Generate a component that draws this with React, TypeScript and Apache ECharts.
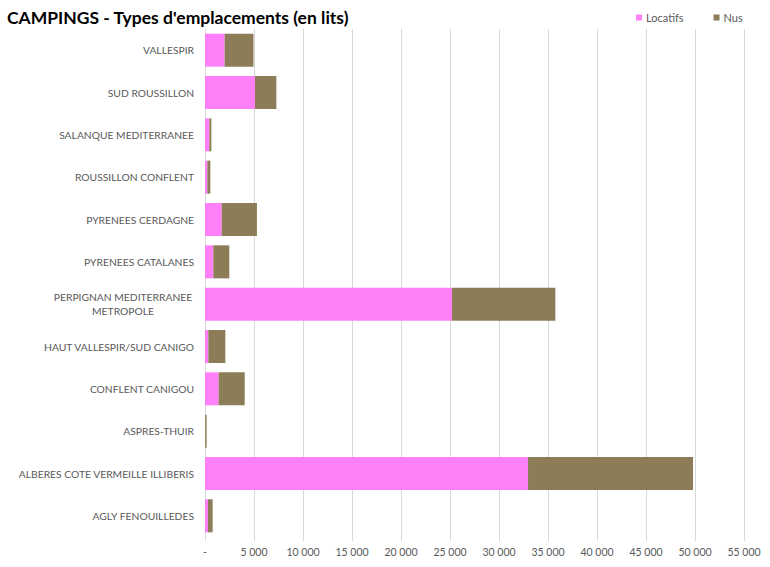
import React, { useEffect, useRef } from "react";
import * as echarts from "echarts";

const categories = [
  "AGLY FENOUILLEDES",
  "ALBERES COTE VERMEILLE ILLIBERIS",
  "ASPRES-THUIR",
  "CONFLENT CANIGOU",
  "HAUT VALLESPIR/SUD CANIGO",
  "PERPIGNAN MEDITERRANEE\nMETROPOLE",
  "PYRENEES CATALANES",
  "PYRENEES CERDAGNE",
  "ROUSSILLON CONFLENT",
  "SALANQUE MEDITERRANEE",
  "SUD ROUSSILLON",
  "VALLESPIR",
];

const locatifs = [300, 32960, 20, 1390, 340, 25200, 850, 1700, 240, 440, 5100, 2000];
const nus = [480, 16840, 150, 2660, 1735, 10550, 1630, 3600, 305, 210, 2180, 2950];

const xTicks = { min: 0, max: 55000, interval: 5000 };

const fmt = (v: number) =>
  v === 0 ? "-" : String(v).replace(/\B(?=(\d{3})+(?!\d))/g, " ");

export default function App() {
  const ref = useRef<HTMLDivElement>(null);
  useEffect(() => {
    document.body.style.margin = "0";
    const chart = echarts.init(ref.current!, null, { renderer: "svg" });
    const font = "Lato, 'Open Sans', sans-serif";
    chart.setOption({
      animation: false,
      backgroundColor: "#ffffff",
      textStyle: { fontFamily: font },
      title: {
        text: "CAMPINGS - Types d'emplacements (en lits)",
        left: 2,
        top: 3,
        textStyle: { fontSize: 17.5, fontWeight: "bold", color: "#000000", fontFamily: font },
      },
      legend: {
        left: 631,
        top: 7,
        itemWidth: 6,
        itemHeight: 6,
        itemGap: 30,
        icon: "rect",
        textStyle: { fontSize: 11, color: "#595959", fontFamily: font, padding: [0, 0, 0, -1] },
        data: ["Locatifs", "Nus"],
      },
      grid: { left: 205, right: 26, top: 29, bottom: 30 },
      xAxis: {
        type: "value",
        min: xTicks.min,
        max: xTicks.max,
        interval: xTicks.interval,
        axisLine: { show: false },
        axisTick: { show: true, length: 4, lineStyle: { color: "#D9D9D9" } },
        splitLine: { show: true, lineStyle: { color: "#D9D9D9", width: 1 } },
        axisLabel: {
          formatter: (v: number) => fmt(v),
          fontSize: 10.5,
          color: "#595959",
          margin: 9,
          fontFamily: font,
        },
      },
      yAxis: {
        type: "category",
        data: categories,
        axisLine: { show: false },
        axisTick: { show: false },
        axisLabel: {
          fontSize: 10.3,
          color: "#595959",
          margin: 11,
          fontFamily: font,
          formatter: (v: string) => (v.includes("\n") ? `{c|${v}}` : v),
          rich: {
            c: { width: 142, align: "center", fontSize: 10.3, color: "#595959", lineHeight: 14, fontFamily: font },
          },
        },
      },
      series: [
        {
          name: "Locatifs",
          type: "bar",
          stack: "total",
          data: locatifs,
          barCategoryGap: "22%",
          itemStyle: { color: "#FF80F8" },
        },
        {
          name: "Nus",
          type: "bar",
          stack: "total",
          data: nus,
          barCategoryGap: "22%",
          itemStyle: { color: "#8C7D58" },
        },
      ],
    });
    return () => chart.dispose();
  }, []);
  return <div ref={ref} style={{ width: 770, height: 567 }} />;
}
